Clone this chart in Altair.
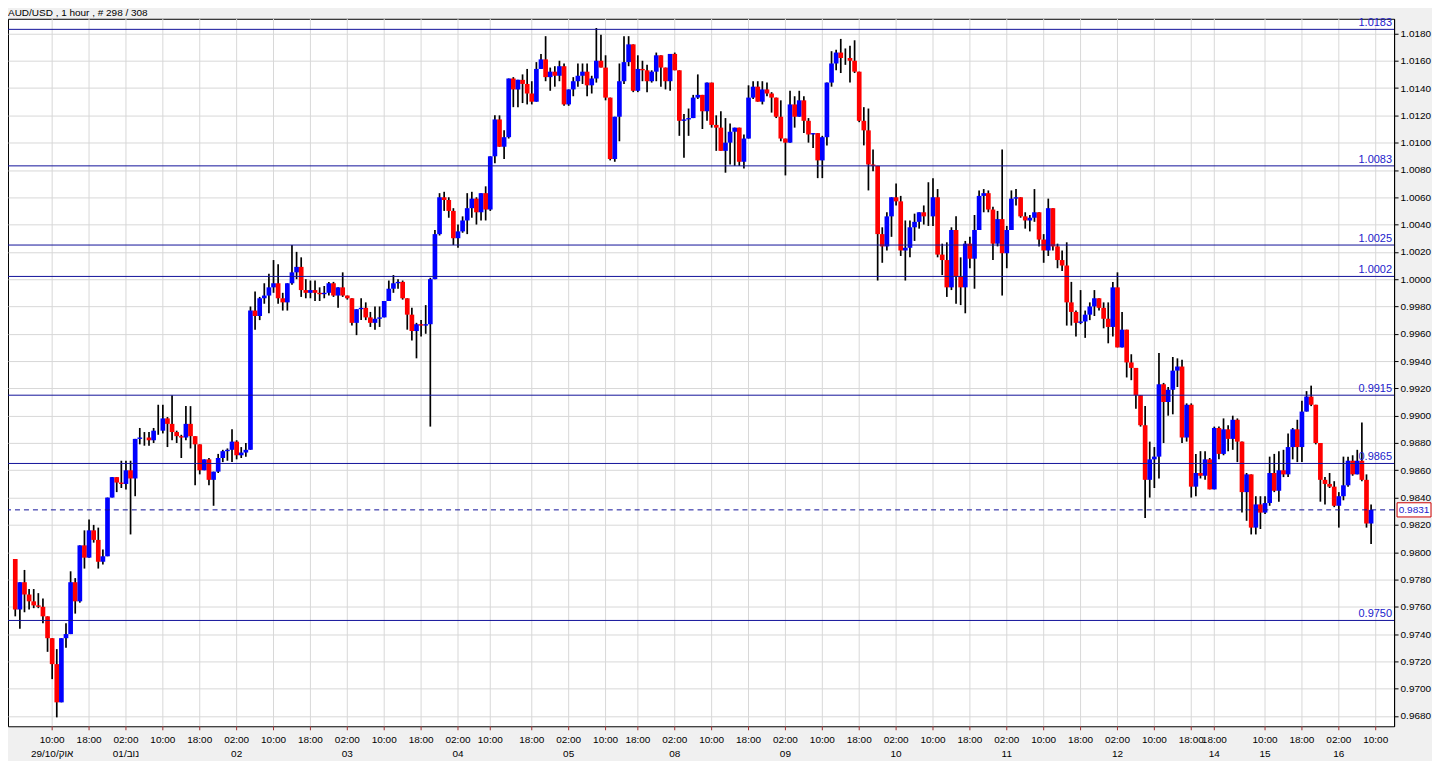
import altair as alt
import pandas as pd

# ---------------- data ----------------
first_open = 0.9795

close = [
    0.9758, 0.9778, 0.9769, 0.9764, 0.9761, 0.9760, 0.9753, 0.9737, 0.9718, 0.9690,
    0.9737, 0.9740, 0.9778, 0.9764, 0.9805, 0.9796, 0.9816, 0.9809, 0.9793, 0.9797,
    0.9840, 0.9855, 0.9851, 0.9850, 0.9860, 0.9854, 0.9883, 0.9884, 0.9884, 0.9882,
    0.9889, 0.9889, 0.9898, 0.9894, 0.9888, 0.9885, 0.9884, 0.9894, 0.9885, 0.9879,
    0.9860, 0.9868, 0.9853, 0.9859, 0.9869, 0.9874, 0.9875, 0.9881, 0.9871, 0.9873,
    0.9875, 0.9977, 0.9973, 0.9986, 0.9988, 0.9994, 0.9997, 0.9986, 0.9983, 0.9997,
    1.0005, 1.0009, 0.9992, 0.9990, 0.9992, 0.9990, 0.9989, 0.9990, 0.9997, 0.9988,
    0.9994, 0.9988, 0.9986, 0.9968, 0.9978, 0.9979, 0.9972, 0.9968, 0.9971, 0.9972,
    0.9984, 0.9993, 0.9997, 0.9998, 0.9986, 0.9974, 0.9962, 0.9967, 0.9966, 0.9967,
    1.0000, 1.0033, 1.0060, 1.0058, 1.0050, 1.0030, 1.0035, 1.0043, 1.0052, 1.0059,
    1.0049, 1.0063, 1.0051, 1.0090, 1.0117, 1.0097, 1.0104, 1.0147, 1.0139, 1.0146,
    1.0143, 1.0136, 1.0130, 1.0154, 1.0161, 1.0148, 1.0152, 1.0149, 1.0156, 1.0128,
    1.0139, 1.0145, 1.0149, 1.0152, 1.0142, 1.0147, 1.0160, 1.0155, 1.0133, 1.0088,
    1.0119, 1.0145, 1.0159, 1.0172, 1.0138, 1.0154, 1.0153, 1.0145, 1.0152, 1.0164,
    1.0155, 1.0145, 1.0165, 1.0153, 1.0116, 1.0117, 1.0118, 1.0133, 1.0135, 1.0123,
    1.0144, 1.0113, 1.0111, 1.0094, 1.0100, 1.0108, 1.0111, 1.0086, 1.0103, 1.0133,
    1.0141, 1.0130, 1.0139, 1.0136, 1.0133, 1.0119, 1.0103, 1.0100, 1.0128, 1.0119,
    1.0131, 1.0116, 1.0106, 1.0107, 1.0087, 1.0104, 1.0144, 1.0158, 1.0166, 1.0162,
    1.0162, 1.0160, 1.0152, 1.0116, 1.0109, 1.0084, 1.0083, 1.0033, 1.0024, 1.0046,
    1.0060, 1.0057, 1.0021, 1.0023, 1.0038, 1.0042, 1.0049, 1.0046, 1.0046, 1.0060,
    1.0018, 1.0014, 0.9994, 1.0036, 1.0002, 0.9994, 1.0026, 1.0015, 1.0036, 1.0061,
    1.0063, 1.0051, 1.0026, 1.0044, 1.0019, 1.0036, 1.0059, 1.0060, 1.0046, 1.0043,
    1.0045, 1.0049, 1.0029, 1.0021, 1.0052, 1.0024, 1.0014, 1.0010, 0.9983, 0.9976,
    0.9968, 0.9969, 0.9974, 0.9980, 0.9986, 0.9979, 0.9971, 0.9965, 0.9994, 0.9950,
    0.9963, 0.9939, 0.9935, 0.9915, 0.9893, 0.9853, 0.9868, 0.9870, 0.9923, 0.9910,
    0.9919, 0.9933, 0.9936, 0.9884, 0.9908, 0.9848, 0.9858, 0.9856, 0.9868, 0.9846,
    0.9891, 0.9872, 0.9890, 0.9883, 0.9897, 0.9881, 0.9844, 0.9857, 0.9818, 0.9835,
    0.9829, 0.9836, 0.9858, 0.9845, 0.9860, 0.9857, 0.9877, 0.9890, 0.9877, 0.9903,
    0.9914, 0.9908, 0.9880, 0.9853, 0.9850, 0.9848, 0.9834, 0.9841, 0.9849, 0.9867,
    0.9857, 0.9867, 0.9853, 0.9821, 0.9831,
]

high = [
    0.9795, 0.9778, 0.9787, 0.9773, 0.9773, 0.9770, 0.9766, 0.9753, 0.9737, 0.9729,
    0.9737, 0.9748, 0.9786, 0.9781, 0.9805, 0.9816, 0.9824, 0.9820, 0.9818, 0.9802,
    0.9840, 0.9855, 0.9854, 0.9867, 0.9867, 0.9867, 0.9883, 0.9891, 0.9888, 0.9888,
    0.9891, 0.9908, 0.9908, 0.9899, 0.9915, 0.9889, 0.9886, 0.9907, 0.9907, 0.9885,
    0.9879, 0.9868, 0.9869, 0.9859, 0.9872, 0.9875, 0.9876, 0.9890, 0.9882, 0.9877,
    0.9880, 0.9980, 0.9991, 0.9987, 0.9997, 1.0004, 1.0014, 1.0011, 0.9990, 0.9997,
    1.0025, 1.0020, 1.0016, 1.0000, 0.9999, 0.9999, 0.9994, 0.9995, 0.9998, 0.9998,
    0.9994, 1.0005, 0.9988, 0.9986, 0.9978, 0.9986, 0.9983, 0.9976, 0.9980, 0.9980,
    0.9984, 0.9999, 1.0003, 1.0000, 0.9999, 0.9986, 0.9979, 0.9968, 0.9970, 0.9981,
    1.0001, 1.0036, 1.0063, 1.0064, 1.0060, 1.0052, 1.0040, 1.0046, 1.0063, 1.0064,
    1.0060, 1.0063, 1.0068, 1.0090, 1.0120, 1.0120, 1.0109, 1.0147, 1.0148, 1.0146,
    1.0150, 1.0154, 1.0145, 1.0159, 1.0165, 1.0178, 1.0155, 1.0156, 1.0160, 1.0158,
    1.0139, 1.0148, 1.0158, 1.0158, 1.0158, 1.0149, 1.0184, 1.0179, 1.0164, 1.0133,
    1.0119, 1.0158, 1.0178, 1.0178, 1.0172, 1.0164, 1.0160, 1.0157, 1.0153, 1.0166,
    1.0155, 1.0155, 1.0165, 1.0166, 1.0153, 1.0121, 1.0125, 1.0135, 1.0150, 1.0135,
    1.0144, 1.0144, 1.0120, 1.0123, 1.0118, 1.0114, 1.0111, 1.0111, 1.0106, 1.0142,
    1.0145, 1.0145, 1.0145, 1.0144, 1.0137, 1.0133, 1.0131, 1.0103, 1.0138, 1.0134,
    1.0138, 1.0134, 1.0118, 1.0107, 1.0107, 1.0105, 1.0144, 1.0167, 1.0168, 1.0176,
    1.0169, 1.0171, 1.0175, 1.0152, 1.0126, 1.0125, 1.0095, 1.0083, 1.0038, 1.0049,
    1.0060, 1.0070, 1.0061, 1.0043, 1.0043, 1.0048, 1.0049, 1.0054, 1.0071, 1.0074,
    1.0066, 1.0026, 1.0027, 1.0038, 1.0046, 1.0016, 1.0028, 1.0031, 1.0047, 1.0065,
    1.0066, 1.0065, 1.0053, 1.0050, 1.0095, 1.0039, 1.0065, 1.0066, 1.0060, 1.0049,
    1.0047, 1.0066, 1.0049, 1.0033, 1.0059, 1.0052, 1.0026, 1.0021, 1.0027, 0.9998,
    0.9977, 0.9992, 0.9977, 0.9983, 0.9992, 0.9986, 0.9983, 0.9983, 0.9998, 1.0005,
    0.9976, 0.9963, 0.9945, 0.9935, 0.9915, 0.9907, 0.9881, 0.9877, 0.9946, 0.9924,
    0.9921, 0.9943, 0.9942, 0.9941, 0.9909, 0.9909, 0.9872, 0.9874, 0.9874, 0.9869,
    0.9892, 0.9892, 0.9898, 0.9893, 0.9900, 0.9898, 0.9881, 0.9858, 0.9857, 0.9841,
    0.9841, 0.9841, 0.9870, 0.9872, 0.9874, 0.9875, 0.9887, 0.9891, 0.9897, 0.9911,
    0.9918, 0.9922, 0.9908, 0.9880, 0.9855, 0.9858, 0.9852, 0.9844, 0.9870, 0.9870,
    0.9871, 0.9875, 0.9895, 0.9857, 0.9835,
]

low = [
    0.9753, 0.9744, 0.9756, 0.9758, 0.9759, 0.9759, 0.9748, 0.9727, 0.9707, 0.9679,
    0.9690, 0.9730, 0.9740, 0.9755, 0.9763, 0.9788, 0.9796, 0.9807, 0.9788, 0.9791,
    0.9797, 0.9840, 0.9844, 0.9847, 0.9846, 0.9813, 0.9841, 0.9879, 0.9878, 0.9878,
    0.9880, 0.9886, 0.9887, 0.9877, 0.9882, 0.9880, 0.9869, 0.9882, 0.9876, 0.9849,
    0.9857, 0.9860, 0.9849, 0.9834, 0.9858, 0.9866, 0.9867, 0.9866, 0.9868, 0.9869,
    0.9870, 0.9875, 0.9963, 0.9970, 0.9982, 0.9975, 0.9990, 0.9982, 0.9977, 0.9977,
    0.9996, 1.0000, 0.9987, 0.9986, 0.9986, 0.9984, 0.9984, 0.9986, 0.9988, 0.9987,
    0.9979, 0.9987, 0.9985, 0.9966, 0.9959, 0.9970, 0.9970, 0.9965, 0.9963, 0.9965,
    0.9972, 0.9985, 0.9990, 0.9993, 0.9985, 0.9963, 0.9955, 0.9942, 0.9958, 0.9960,
    0.9892, 1.0000, 1.0032, 1.0050, 1.0045, 1.0025, 1.0023, 1.0034, 1.0033, 1.0045,
    1.0040, 1.0043, 1.0043, 1.0050, 1.0085, 1.0097, 1.0088, 1.0103, 1.0126, 1.0126,
    1.0129, 1.0128, 1.0128, 1.0130, 1.0154, 1.0145, 1.0138, 1.0141, 1.0145, 1.0127,
    1.0127, 1.0134, 1.0141, 1.0143, 1.0134, 1.0136, 1.0144, 1.0155, 1.0131, 1.0087,
    1.0086, 1.0101, 1.0143, 1.0156, 1.0137, 1.0137, 1.0145, 1.0137, 1.0144, 1.0145,
    1.0141, 1.0139, 1.0138, 1.0153, 1.0105, 1.0089, 1.0105, 1.0118, 1.0132, 1.0110,
    1.0116, 1.0111, 1.0094, 1.0094, 1.0078, 1.0084, 1.0083, 1.0083, 1.0081, 1.0103,
    1.0132, 1.0130, 1.0128, 1.0134, 1.0122, 1.0118, 1.0101, 1.0076, 1.0100, 1.0111,
    1.0119, 1.0107, 1.0100, 1.0096, 1.0074, 1.0074, 1.0098, 1.0141, 1.0153, 1.0151,
    1.0157, 1.0144, 1.0151, 1.0115, 1.0098, 1.0065, 1.0079, 0.9999, 1.0012, 1.0021,
    1.0031, 1.0054, 1.0017, 0.9999, 1.0016, 1.0028, 1.0037, 1.0040, 1.0039, 1.0039,
    1.0016, 1.0003, 0.9987, 0.9992, 0.9982, 0.9981, 0.9975, 1.0008, 0.9993, 1.0036,
    1.0049, 1.0049, 1.0014, 1.0024, 0.9988, 1.0008, 1.0036, 1.0054, 1.0045, 1.0037,
    1.0035, 1.0042, 1.0024, 1.0012, 1.0017, 1.0021, 1.0008, 1.0006, 0.9966, 0.9966,
    0.9958, 0.9967, 0.9957, 0.9970, 0.9973, 0.9977, 0.9964, 0.9953, 0.9958, 0.9950,
    0.9950, 0.9928, 0.9926, 0.9905, 0.9892, 0.9825, 0.9840, 0.9847, 0.9854, 0.9880,
    0.9900, 0.9901, 0.9921, 0.9880, 0.9881, 0.9840, 0.9841, 0.9854, 0.9853, 0.9846,
    0.9870, 0.9868, 0.9871, 0.9874, 0.9875, 0.9866, 0.9829, 0.9823, 0.9813, 0.9813,
    0.9817, 0.9828, 0.9834, 0.9844, 0.9837, 0.9855, 0.9855, 0.9868, 0.9866, 0.9866,
    0.9903, 0.9907, 0.9879, 0.9837, 0.9835, 0.9847, 0.9833, 0.9818, 0.9838, 0.9848,
    0.9856, 0.9857, 0.9852, 0.9818, 0.9806,
]

levels = [1.0183, 1.0083, 1.0025, 1.0002, 0.9915, 0.9865, 0.9750]
level_text = ["1.0183", "1.0083", "1.0025", "1.0002", "0.9915", "0.9865", "0.9750"]
last_price = 0.9831
last_text = "0.9831"

y_ticks = [0.9680, 0.9700, 0.9720, 0.9740, 0.9760, 0.9780, 0.9800, 0.9820, 0.9840,
           0.9860, 0.9880, 0.9900, 0.9920, 0.9940, 0.9960, 0.9980, 1.0000, 1.0020,
           1.0040, 1.0060, 1.0080, 1.0100, 1.0120, 1.0140, 1.0160, 1.0180]

time_text = ["10:00", "18:00", "02:00", "10:00", "18:00", "02:00", "10:00", "18:00",
             "02:00", "10:00", "18:00", "02:00", "10:00", "18:00", "02:00", "10:00",
             "18:00", "02:00", "10:00", "18:00", "02:00", "10:00", "18:00", "02:00",
             "10:00", "18:00", "02:00", "10:00", "18:00", "02:00", "10:00", "18:00",
             "18:00", "10:00", "18:00", "02:00", "10:00"]
time_bar = [8, 16, 24, 32, 40, 48, 56, 64, 72, 80, 88, 96, 103, 112, 120, 128, 135,
            143, 151, 159, 167, 175, 183, 191, 199, 207, 215, 223, 231, 239, 247, 255,
            260, 271, 279, 287, 295]

# LRM keeps the day/month digits on the left of the Hebrew month name
date_text = ["29/10/\u200eאוק", "01/\u200eנוב", "02", "03", "04", "05", "08", "09",
             "10", "11", "12", "14", "15", "16"]
date_bar = [8, 24, 48, 72, 96, 120, 143, 167, 191, 215, 239, 260, 271, 287]

title_text = "AUD/USD , 1 hour , # 298 / 308"

# ---------------- build tables ----------------
n = len(close)
opens = [first_open] + close[:-1]
candles = pd.DataFrame({
    "bar": list(range(n)),
    "open": opens,
    "close": close,
    "high": [max(h, o, c) for h, o, c in zip(high, opens, close)],
    "low": [min(l, o, c) for l, o, c in zip(low, opens, close)],
})
candles["dir"] = ["up" if c >= o else "down" for o, c in zip(opens, close)]

levels_df = pd.DataFrame({"price": levels, "label": level_text})
last_df = pd.DataFrame({"price": [last_price], "label": [last_text],
                        "top": [last_price + 0.00052], "bot": [last_price - 0.00052]})
times_df = pd.DataFrame({"bar": time_bar, "label": time_text})
dates_df = pd.DataFrame({"bar": date_bar, "label": date_text})

W, H = 1389, 709
FONT = "Liberation Sans"
LINE_BLUE = "#12129A"
TEXT_BLUE = "#2222CC"

xscale = alt.Scale(domain=[-0.494, 297.9], nice=False, zero=False)
yscale = alt.Scale(domain=[0.967247, 1.019075], nice=False, zero=False)
yaxis = alt.Axis(orient="right", values=y_ticks, format=".4f", title=None,
                 labelFont=FONT, labelFontSize=10, labelColor="black",
                 labelPadding=2, labelOverlap=False, labelFlush=False,
                 tickColor="black", tickSize=4, domain=True, domainColor="black",
                 grid=True, gridColor="#D8D8D8", gridWidth=1)


def X(field):
    return alt.X(field, type="quantitative", scale=xscale, axis=None)


def Y(field):
    return alt.Y(field, type="quantitative", scale=yscale, axis=yaxis)


vgrid = alt.Chart(times_df).mark_rule(color="#D8D8D8", strokeWidth=1).encode(x=X("bar"))

wicks = alt.Chart(candles).mark_rule(color="black", strokeWidth=1.7).encode(
    x=X("bar"), y=Y("low"), y2="high")

bodies = alt.Chart(candles).mark_bar(size=4.7).encode(
    x=X("bar"), y=Y("open"), y2="close",
    color=alt.Color("dir:N", scale=alt.Scale(domain=["up", "down"],
                                             range=["#0000FF", "#FF0000"]), legend=None))

level_rules = alt.Chart(levels_df).mark_rule(color=LINE_BLUE, strokeWidth=1).encode(
    y=Y("price"))

level_labels = alt.Chart(levels_df).mark_text(
    align="right", baseline="bottom", dy=-1, font=FONT, fontSize=11, color=TEXT_BLUE
).encode(x=alt.value(W - 2), y=Y("price"), text="label:N")

last_rule = alt.Chart(last_df).mark_rule(color=LINE_BLUE, strokeWidth=1,
                                         strokeDash=[5, 4]).encode(y=Y("price"))

last_box = alt.Chart(last_df).mark_rect(fill="white", stroke="#CC0000",
                                        strokeWidth=1).encode(
    x=alt.value(W + 3), x2=alt.value(W + 37), y=Y("top"), y2="bot")

last_label = alt.Chart(last_df).mark_text(
    align="center", baseline="middle", font=FONT, fontSize=10, color=TEXT_BLUE
).encode(x=alt.value(W + 20), y=Y("price"), text="label:N")

x_ticks = alt.Chart(times_df).mark_rule(color="#A03030", strokeWidth=1).encode(
    x=X("bar"), y=alt.value(H), y2=alt.value(H + 4))

time_labels = alt.Chart(times_df).mark_text(
    baseline="middle", font=FONT, fontSize=10, color="black"
).encode(x=X("bar"), y=alt.value(H + 14), text="label:N")

date_labels = alt.Chart(dates_df).mark_text(
    baseline="middle", font=FONT, fontSize=10, color="black"
).encode(x=X("bar"), y=alt.value(H + 28), text="label:N")

title = alt.Chart(pd.DataFrame({"t": [title_text]})).mark_text(
    align="left", baseline="alphabetic", font=FONT, fontSize=10, color="black"
).encode(x=alt.value(0), y=alt.value(-3), text="t:N")

chart = alt.layer(
    vgrid, wicks, bodies, level_rules, level_labels, last_rule,
    last_box, last_label, x_ticks, time_labels, date_labels, title
).properties(
    width=W, height=H,
    autosize=alt.AutoSizeParams(type="none"),
    padding={"left": 0, "top": 10, "right": 38, "bottom": 34},
    background="#F0F0F0",
).configure_view(stroke="black", strokeWidth=1, fill="white")

chart.save("out.html", embed_options={"renderer": "svg", "actions": False})
